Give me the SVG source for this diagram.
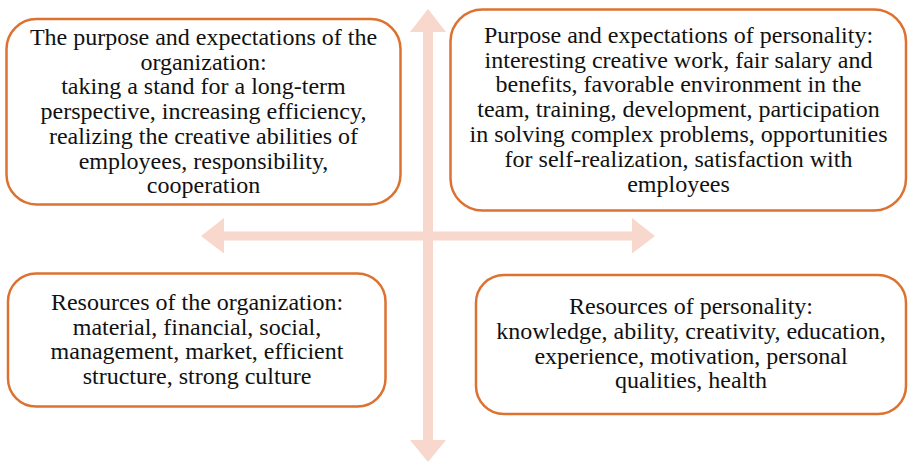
<svg xmlns="http://www.w3.org/2000/svg" width="908" height="462" viewBox="0 0 908 462">
  <style>
    .box { fill: #ffffff; stroke: #DD7230; stroke-width: 2.5; }
    .axis { fill: #F8D7CC; stroke: none; }
    text { font-family: "Liberation Serif", "Times New Roman", serif; font-size: 24px; fill: #111111; text-anchor: middle; }
  </style>

  <!-- Cross of two double-headed arrows -->
  <g id="connectors">
    <!-- vertical -->
    <polygon class="axis" points="428,9 446,32 433,32 433,440 446,440 428,462 410,440 423,440 423,32 410,32"/>
    <!-- horizontal -->
    <polygon class="axis" points="201,236 224,218 224,231.5 632,231.5 632,218 655,236 632,253.5 632,240.5 224,240.5 224,253.5"/>
  </g>

  <g id="org-purpose">
    <rect class="box" x="6.5" y="19" width="394" height="185.5" rx="30" ry="30"/>
    <text x="203.5" y="45">The purpose and expectations of the</text>
    <text x="203.5" y="69.7">organization:</text>
    <text x="203.5" y="94.4">taking a stand for a long-term</text>
    <text x="203.5" y="119.1">perspective, increasing efficiency,</text>
    <text x="203.5" y="143.8">realizing the creative abilities of</text>
    <text x="203.5" y="168.5">employees, responsibility,</text>
    <text x="203.5" y="193.2">cooperation</text>
  </g>

  <g id="person-purpose">
    <rect class="box" x="450.5" y="9.5" width="455.5" height="201" rx="32" ry="32"/>
    <text x="678.5" y="42.7">Purpose and expectations of personality:</text>
    <text x="678.5" y="67.5">interesting creative work, fair salary and</text>
    <text x="678.5" y="92.3">benefits, favorable environment in the</text>
    <text x="678.5" y="117.1">team, training, development, participation</text>
    <text x="678.5" y="141.9">in solving complex problems, opportunities</text>
    <text x="678.5" y="166.7">for self-realization, satisfaction with</text>
    <text x="678.5" y="191.5">employees</text>
  </g>

  <g id="org-resources">
    <rect class="box" x="8" y="273.5" width="377.5" height="133" rx="28" ry="28"/>
    <text x="197" y="310">Resources of the organization:</text>
    <text x="197" y="334.7">material, financial, social,</text>
    <text x="197" y="359.4">management, market, efficient</text>
    <text x="197" y="384.1">structure, strong culture</text>
  </g>

  <g id="person-resources">
    <rect class="box" x="476" y="275" width="430" height="139" rx="28" ry="28"/>
    <text x="691" y="314">Resources of personality:</text>
    <text x="691" y="338.8">knowledge, ability, creativity, education,</text>
    <text x="691" y="363.6">experience, motivation, personal</text>
    <text x="691" y="388.4">qualities, health</text>
  </g>
</svg>
